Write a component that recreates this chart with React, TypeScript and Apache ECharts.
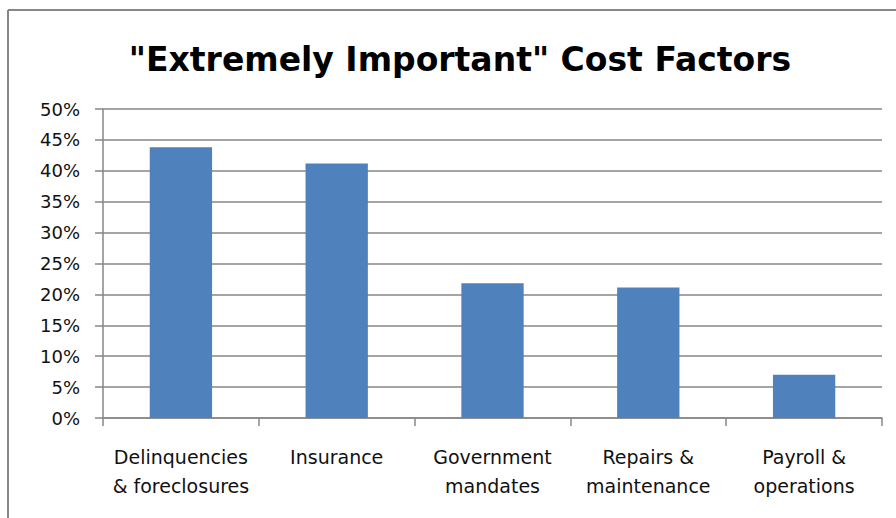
import React, { useEffect, useRef } from "react";
import * as echarts from "echarts";

const titleText = '"Extremely Important" Cost Factors';
const categories = [
  "Delinquencies\n& foreclosures",
  "Insurance",
  "Government\nmandates",
  "Repairs &\nmaintenance",
  "Payroll &\noperations",
];
const values = [43.8, 41.2, 21.8, 21.1, 7.0];
const yMin = 0;
const yMax = 50;
const yStep = 5;

const GRID = "#878787";
const BAR = "#4F81BD";

export default function App() {
  const ref = useRef<HTMLDivElement>(null);
  useEffect(() => {
    if (!ref.current) return;
    const chart = echarts.init(ref.current, null, { renderer: "svg" });
    chart.setOption({
      animation: false,
      backgroundColor: "#ffffff",
      title: {
        text: titleText,
        left: 455,
        top: 38,
        textAlign: "center",
        textStyle: {
          fontFamily: "DejaVu Sans",
          fontWeight: "bold",
          fontSize: 33,
          color: "#000000",
        },
      },
      graphic: [
        {
          type: "line",
          shape: { x1: 8, y1: 10, x2: 900, y2: 10 },
          style: { stroke: GRID, lineWidth: 2 },
        },
        {
          type: "line",
          shape: { x1: 8, y1: 10, x2: 8, y2: 520 },
          style: { stroke: GRID, lineWidth: 2 },
        },
      ],
      grid: { left: 103, right: 14, top: 109, bottom: 100, containLabel: false },
      xAxis: {
        type: "category",
        data: categories,
        boundaryGap: true,
        axisLine: { show: true, lineStyle: { color: GRID, width: 1.5 } },
        axisTick: {
          show: true,
          interval: 0,
          alignWithLabel: false,
          length: 8,
          lineStyle: { color: GRID, width: 1.5 },
        },
        axisLabel: {
          interval: 0,
          margin: 24,
          fontFamily: "DejaVu Sans",
          fontSize: 19,
          lineHeight: 29,
          color: "#111111",
        },
      },
      yAxis: {
        type: "value",
        min: yMin,
        max: yMax,
        interval: yStep,
        axisLine: { show: true, lineStyle: { color: GRID, width: 1.5 } },
        axisTick: { show: true, length: 8, lineStyle: { color: GRID, width: 1.5 } },
        splitLine: { show: true, lineStyle: { color: GRID, width: 1.5 } },
        axisLabel: {
          margin: 23,
          formatter: "{value}%",
          fontFamily: "DejaVu Sans",
          fontSize: 18,
          color: "#111111",
        },
      },
      series: [
        {
          type: "bar",
          data: values,
          barWidth: "40%",
          itemStyle: { color: BAR },
        },
      ],
    });
    return () => chart.dispose();
  }, []);
  return (
    <div
      ref={ref}
      style={{ position: "absolute", left: 0, top: 0, width: 896, height: 518 }}
    />
  );
}
